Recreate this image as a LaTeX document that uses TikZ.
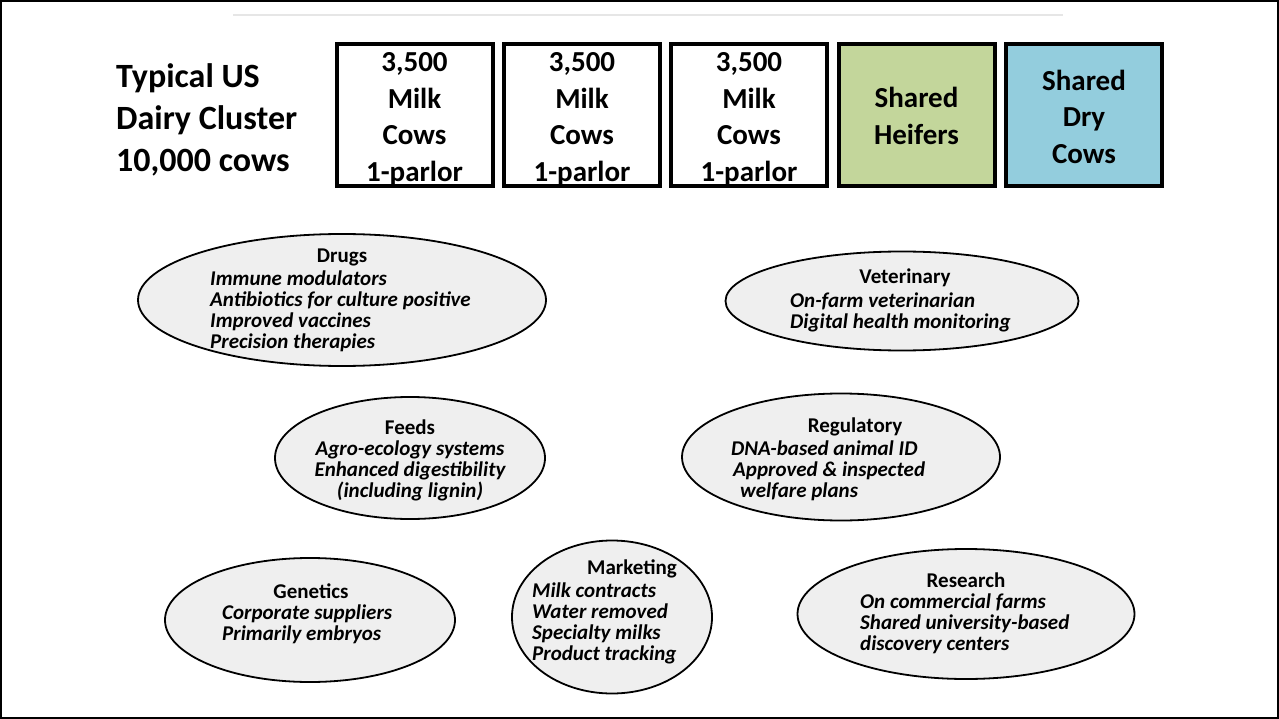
\documentclass[tikz,border=0pt]{standalone}
\usepackage{fontspec}
\setmainfont{Carlito}
\usetikzlibrary{shapes.geometric}
\definecolor{heifer}{HTML}{C3D69B}
\definecolor{drycow}{HTML}{93CDDD}
\definecolor{ellfill}{HTML}{EFEFEF}
\definecolor{topline}{HTML}{E6E6E6}
\tikzset{
  cowbox/.style={draw=black, line width=4pt, minimum width=156pt, minimum height=142pt, inner sep=0pt},
  cowtext/.style={align=center, inner sep=0pt, font=\fontsize{29}{36.5}\selectfont\bfseries},
  area/.style={draw=black, line width=1.8pt, fill=ellfill, ellipse, inner sep=0pt},
  head/.style={font=\fontsize{21}{21}\selectfont\bfseries, inner sep=0pt},
  items/.style={font=\fontsize{21}{21}\selectfont\bfseries\itshape, inner sep=0pt, align=left, anchor=north west},
  itemsc/.style={font=\fontsize{21}{21}\selectfont\bfseries\itshape, inner sep=0pt, align=center, anchor=north},
}
\begin{document}
\begin{tikzpicture}[x=1pt,y=-1pt]
\useasboundingbox (0,0) rectangle (1279,719);
\draw[line width=2pt] (1,1) rectangle (1278,718);
\draw[topline, line width=2pt] (233,15) -- (1063,15);

\node[align=left, anchor=west, inner sep=0pt, font=\fontsize{34}{42}\selectfont\bfseries] (title) at (116,120) {Typical US\\Dairy Cluster\\10,000 cows};

\node[cowbox] (b1) at (414.5,115) {};
\node[cowbox] (b2) at (582,115) {};
\node[cowbox] (b3) at (749,115) {};
\node[cowbox, fill=heifer] (b4) at (916.5,115) {};
\node[cowbox, fill=drycow] (b5) at (1084,115) {};
\node[cowtext] (t1) at ([yshift=-4.5pt]b1.center) {3,500\\Milk\\Cows\\1-parlor};
\node[cowtext] (t2) at ([yshift=-4.5pt]b2.center) {3,500\\Milk\\Cows\\1-parlor};
\node[cowtext] (t3) at ([yshift=-4.5pt]b3.center) {3,500\\Milk\\Cows\\1-parlor};
\node[cowtext] (t4) at ([yshift=-1pt]b4.center) {Shared\\Heifers};
\node[cowtext] (t5) at ([yshift=-1.5pt]b5.center) {Shared\\Dry\\Cows};

% Drugs
\node[area, minimum width=408pt, minimum height=132pt] (drugs) at (342,300) {};
\node[head] (drugsh) at (342,257) {Drugs};
\node[items] (drugsi) at (210,270.5) {Immune modulators\\Antibiotics for culture positive\\Improved vaccines\\Precision therapies};

% Veterinary
\node[area, minimum width=353pt, minimum height=99pt] (vet) at (902,301) {};
\node[head] (veth) at (905,278) {Veterinary};
\node[items] (veti) at (790,292.5) {On-farm veterinarian\\Digital health monitoring};

% Feeds
\node[area, minimum width=270pt, minimum height=122pt] (feeds) at (410,458) {};
\node[head] (feedsh) at (410,427) {Feeds};
\node[itemsc] (feedsi) at (410,440.5) {Agro-ecology systems\\Enhanced digestibility\\(including lignin)};

% Regulatory
\node[area, minimum width=318pt, minimum height=127pt] (reg) at (841,457) {};
\node[head] (regh) at (855,427) {Regulatory};
\node[items] (regi) at (731,440.5) {DNA-based animal ID\\\hspace*{2pt}Approved \& inspected\\\hspace*{9pt}welfare plans};

% Genetics
\node[area, minimum width=290pt, minimum height=124pt] (gen) at (310,620) {};
\node[head] (genh) at (311,591) {Genetics};
\node[items] (geni) at (222,604.5) {Corporate suppliers\\Primarily embryos};

% Marketing
\node[area, minimum width=200pt, minimum height=153pt] (mkt) at (612,617) {};
\node[head] (mkth) at (632,569) {Marketing};
\node[items] (mkti) at (532,582.5) {Milk contracts\\Water removed\\Specialty milks\\Product tracking};

% Research
\node[area, minimum width=337pt, minimum height=130pt] (res) at (966,614) {};
\node[head] (resh) at (966,580) {Research};
\node[items] (resi) at (860,593.5) {On commercial farms\\Shared university-based\\discovery centers};
\end{tikzpicture}
\end{document}
